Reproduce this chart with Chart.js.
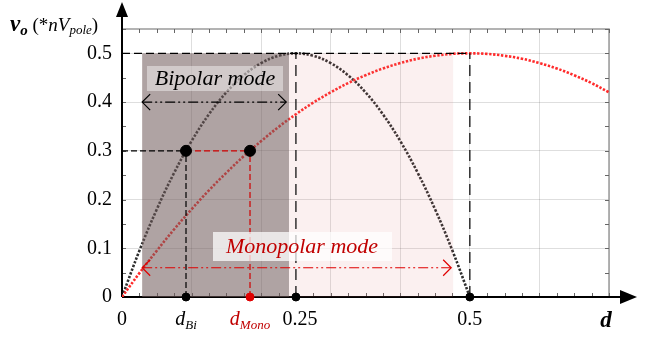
<!DOCTYPE html>
<html>
<head>
<meta charset="utf-8">
<script src="https://cdn.jsdelivr.net/npm/chart.js@4"></script>
<style>
  html, body { margin: 0; padding: 0; background: #fff; }
  #wrap { width: 647px; height: 338px; }
</style>
</head>
<body>
<div id="wrap"><canvas id="chart" width="647" height="338"></canvas></div>
<script>
// duty ratio samples
const dBipolar = [0, 0.025, 0.05, 0.075, 0.1, 0.125, 0.15, 0.175, 0.2, 0.225, 0.25,
  0.275, 0.3, 0.325, 0.35, 0.375, 0.4, 0.425, 0.45, 0.475, 0.5];
const vBipolar = [0, 0.095, 0.18, 0.255, 0.32, 0.375, 0.42, 0.455, 0.48, 0.495, 0.5,
  0.495, 0.48, 0.455, 0.42, 0.375, 0.32, 0.255, 0.18, 0.095, 0];

const dMonopolar = [0, 0.025, 0.05, 0.075, 0.1, 0.125, 0.15, 0.175, 0.2, 0.225, 0.25,
  0.275, 0.3, 0.325, 0.35, 0.375, 0.4, 0.425, 0.45, 0.475, 0.5,
  0.525, 0.55, 0.575, 0.6, 0.625, 0.65, 0.675, 0.7];
const vMonopolar = [0, 0.049, 0.095, 0.139, 0.18, 0.219, 0.255, 0.289, 0.32, 0.349, 0.375,
  0.399, 0.42, 0.439, 0.455, 0.469, 0.48, 0.489, 0.495, 0.499, 0.5,
  0.499, 0.495, 0.489, 0.48, 0.469, 0.455, 0.439, 0.42];

// operating point
const vRef = 0.3;
const dBi = 0.092;
const dMono = 0.184;
const dPeakBi = 0.25;
const dPeakMono = 0.5;
const vPeak = 0.5;

// axes
const xGridTicks = [0, 0.1, 0.2, 0.3, 0.4, 0.5, 0.6, 0.7];
const yTicks = [0, 0.1, 0.2, 0.3, 0.4, 0.5];
const xLabelValues = [0, dBi, dMono, dPeakBi, dPeakMono];
const xLabelMain = ['0', 'd', 'd', '0.25', '0.5'];
const xLabelSub = ['', 'Bi', 'Mono', '', ''];
const xLabelColors = ['#000', '#000', '#c00000', '#000', '#000'];

// operating ranges
const bipolarSpan = [0.029, 0.24];
const monopolarSpan = [0.029, 0.476];
const bipolarArrowV = 0.4;
const monopolarArrowV = 0.06;

const SERIF = '"Liberation Serif", "Times New Roman", serif';

function pts(xs, ys) {
  return xs.map((x, i) => ({ x: x, y: ys[i] }));
}

function guide(label, p, color, dash) {
  return {
    label: label,
    data: p,
    showLine: true,
    borderColor: color,
    borderWidth: 1.2,
    borderDash: dash,
    pointRadius: 0,
    order: 2
  };
}

function drawRuns(ctx, x, y, runs, align) {
  let total = 0;
  runs.forEach(r => {
    ctx.font = r.font;
    r.w = ctx.measureText(r.text).width;
    total += r.w;
  });
  let cx = align === 'center' ? x - total / 2 : x;
  ctx.textAlign = 'left';
  ctx.textBaseline = 'alphabetic';
  runs.forEach(r => {
    ctx.font = r.font;
    ctx.fillStyle = r.color || '#000';
    ctx.fillText(r.text, cx, y + (r.dy || 0));
    cx += r.w;
  });
}

function doubleArrow(ctx, x0, x1, y, color) {
  ctx.save();
  ctx.strokeStyle = color;
  ctx.lineWidth = 1.2;
  ctx.setLineDash([10, 3, 2, 3, 2, 3]);
  ctx.beginPath();
  ctx.moveTo(x0, y);
  ctx.lineTo(x1, y);
  ctx.stroke();
  ctx.setLineDash([]);
  ctx.beginPath();
  ctx.moveTo(x0 + 8, y - 8);
  ctx.lineTo(x0, y);
  ctx.lineTo(x0 + 8, y + 8);
  ctx.moveTo(x1 - 8, y - 8);
  ctx.lineTo(x1, y);
  ctx.lineTo(x1 - 8, y + 8);
  ctx.stroke();
  ctx.restore();
}

const frame = {
  id: 'frame',
  beforeDatasetsDraw(chart) {
    const { ctx, chartArea: a, scales: { x, y } } = chart;
    ctx.save();
    // top and right border
    ctx.strokeStyle = '#9a9a9a';
    ctx.lineWidth = 1.5;
    ctx.beginPath();
    ctx.moveTo(a.left, a.top);
    ctx.lineTo(a.right, a.top);
    ctx.lineTo(a.right, a.bottom);
    ctx.stroke();
    // minor ticks
    ctx.strokeStyle = '#666';
    ctx.lineWidth = 1;
    ctx.beginPath();
    for (let v = 0; v <= 0.7001; v += 0.025) {
      const px = Math.round(x.getPixelForValue(v)) + 0.5;
      ctx.moveTo(px, a.top); ctx.lineTo(px, a.top + 4);
      ctx.moveTo(px, a.bottom); ctx.lineTo(px, a.bottom - 4);
    }
    for (let v = 0; v <= 0.5501; v += 0.05) {
      const py = Math.round(y.getPixelForValue(v)) + 0.5;
      ctx.moveTo(a.left, py); ctx.lineTo(a.left + 4, py);
      ctx.moveTo(a.right, py); ctx.lineTo(a.right - 4, py);
    }
    ctx.stroke();
    // main axes with arrows
    ctx.strokeStyle = '#000';
    ctx.fillStyle = '#000';
    ctx.lineWidth = 2;
    ctx.beginPath();
    ctx.moveTo(a.left, a.bottom);
    ctx.lineTo(a.left, 14);
    ctx.moveTo(a.left, a.bottom);
    ctx.lineTo(622, a.bottom);
    ctx.stroke();
    ctx.beginPath();
    ctx.moveTo(a.left, 2);
    ctx.lineTo(a.left - 6, 17);
    ctx.lineTo(a.left + 6, 17);
    ctx.closePath();
    ctx.fill();
    ctx.beginPath();
    ctx.moveTo(637, a.bottom);
    ctx.lineTo(620, a.bottom - 7);
    ctx.lineTo(620, a.bottom + 7);
    ctx.closePath();
    ctx.fill();
    ctx.restore();
  },
  afterDatasetDraw(chart, args) {
    // shade the operating regions over the curves
    if (args.meta.label !== 'Monopolar') return;
    const { ctx, scales: { x, y } } = chart;
    const yTop = y.getPixelForValue(vPeak);
    const yBot = y.getPixelForValue(0);
    ctx.save();
    ctx.fillStyle = 'rgba(220, 120, 120, 0.11)';
    const m0 = x.getPixelForValue(monopolarSpan[0]);
    const m1 = x.getPixelForValue(monopolarSpan[1]);
    ctx.fillRect(m0, yTop, m1 - m0, yBot - yTop);
    ctx.fillStyle = 'rgba(100, 88, 88, 0.5)';
    const b0 = x.getPixelForValue(bipolarSpan[0]);
    const b1 = x.getPixelForValue(bipolarSpan[1]);
    ctx.fillRect(b0, yTop, b1 - b0, yBot - yTop);
    ctx.restore();
  },
  afterDatasetsDraw(chart) {
    const { ctx, scales: { x, y } } = chart;
    ctx.save();
    // mode arrows
    doubleArrow(ctx, x.getPixelForValue(bipolarSpan[0]), x.getPixelForValue(0.236),
      y.getPixelForValue(bipolarArrowV), '#000');
    doubleArrow(ctx, x.getPixelForValue(monopolarSpan[0]), x.getPixelForValue(monopolarSpan[1]) - 2,
      y.getPixelForValue(monopolarArrowV), '#e00000');
    // mode captions
    ctx.fillStyle = 'rgba(255, 255, 255, 0.42)';
    ctx.fillRect(147, 66, 136, 25);
    drawRuns(ctx, 215, 85, [{ text: 'Bipolar mode', font: 'italic 22px ' + SERIF, color: '#000' }], 'center');
    ctx.fillStyle = 'rgba(255, 255, 255, 0.72)';
    ctx.fillRect(213, 232, 179, 29);
    drawRuns(ctx, 302, 253, [{ text: 'Monopolar mode', font: 'italic 22px ' + SERIF, color: '#c00000' }], 'center');

    // x labels
    xLabelValues.forEach((v, i) => {
      const runs = [{ text: xLabelMain[i], font: (xLabelSub[i] ? 'italic ' : '') + '20px ' + SERIF, color: xLabelColors[i] }];
      if (xLabelSub[i]) runs.push({ text: xLabelSub[i], font: 'italic 13px ' + SERIF, color: xLabelColors[i], dy: 4 });
      const shift = xLabelMain[i] === '0.25' ? 4 : 0;
      drawRuns(ctx, x.getPixelForValue(v) + shift, 325, runs, 'center');
    });
    drawRuns(ctx, 606, 327, [{ text: 'd', font: 'bold italic 23px ' + SERIF }], 'center');

    // y title
    drawRuns(ctx, 10, 31, [
      { text: 'v', font: 'bold italic 23px ' + SERIF },
      { text: 'o', font: 'bold italic 15px ' + SERIF, dy: 4 },
      { text: ' (*', font: '19px ' + SERIF },
      { text: 'nV', font: 'italic 19px ' + SERIF },
      { text: 'pole', font: 'italic 13px ' + SERIF, dy: 3 },
      { text: ')', font: '19px ' + SERIF }
    ], 'left');
    ctx.restore();
  }
};

function build() {
  const ctx = document.getElementById('chart').getContext('2d');
  new Chart(ctx, {
    type: 'scatter',
    data: {
      datasets: [
        {
          label: 'Operating points',
          data: [{ x: dBi, y: vRef }, { x: dMono, y: vRef }],
          backgroundColor: '#000',
          borderColor: '#000',
          pointRadius: 5.5,
          clip: false,
          order: 1
        },
        {
          label: 'Axis markers',
          data: [{ x: dBi, y: 0 }, { x: dPeakBi, y: 0 }, { x: dPeakMono, y: 0 }],
          backgroundColor: '#000',
          borderColor: '#000',
          pointRadius: 4,
          clip: false,
          order: 1
        },
        {
          label: 'Monopolar marker',
          data: [{ x: dMono, y: 0 }],
          backgroundColor: '#e00000',
          borderColor: '#e00000',
          pointRadius: 4,
          clip: false,
          order: 1
        },
        guide('Peak level', [{ x: 0, y: vPeak }, { x: dPeakMono, y: vPeak }], '#000', [8, 4]),
        guide('Bipolar peak', [{ x: dPeakBi, y: 0 }, { x: dPeakBi, y: vPeak }], '#000', [11, 6]),
        guide('Monopolar peak', [{ x: dPeakMono, y: 0 }, { x: dPeakMono, y: vPeak }], '#000', [11, 6]),
        guide('Reference', [{ x: 0, y: vRef }, { x: dBi, y: vRef }], '#000', [6, 3]),
        guide('dBi drop', [{ x: dBi, y: 0 }, { x: dBi, y: vRef }], '#000', [6, 3]),
        guide('Reference red', [{ x: dBi, y: vRef }, { x: dMono, y: vRef }], '#d00000', [6, 3]),
        guide('dMono drop', [{ x: dMono, y: 0 }, { x: dMono, y: vRef }], '#d00000', [6, 3]),
        {
          label: 'Monopolar',
          data: pts(dMonopolar, vMonopolar),
          showLine: true,
          borderColor: '#ff2a2a',
          borderWidth: 2.6,
          borderDash: [2.4, 1.6],
          tension: 0.4,
          pointRadius: 0,
          order: 3
        },
        {
          label: 'Bipolar',
          data: pts(dBipolar, vBipolar),
          showLine: true,
          borderColor: '#2e2e2e',
          borderWidth: 2.6,
          borderDash: [2.4, 1.6],
          tension: 0.4,
          pointRadius: 0,
          order: 4
        }
      ]
    },
    options: {
      responsive: false,
      animation: false,
      layout: { padding: { left: 0, right: 38, top: 29, bottom: 41 } },
      plugins: {
        legend: { display: false },
        tooltip: { enabled: false }
      },
      scales: {
        x: {
          type: 'linear',
          min: 0,
          max: 0.7,
          afterBuildTicks: s => { s.ticks = xGridTicks.map(v => ({ value: v })); },
          afterFit: s => { s.height = 0; },
          ticks: { display: false },
          grid: { color: 'rgba(0,0,0,0.13)', lineWidth: 1, drawTicks: false },
          border: { display: false }
        },
        y: {
          min: 0,
          max: 0.55,
          afterBuildTicks: s => { s.ticks = yTicks.map(v => ({ value: v })); },
          afterFit: s => { s.width = 122; },
          ticks: {
            color: '#000',
            padding: 10,
            font: { family: SERIF, size: 20 }
          },
          grid: { color: 'rgba(0,0,0,0.13)', lineWidth: 1, drawTicks: false },
          border: { display: false }
        }
      }
    },
    plugins: [frame]
  });
}

// make sure the serif faces are ready before drawing on the canvas
Promise.all([
  document.fonts.load('20px ' + SERIF),
  document.fonts.load('italic 20px ' + SERIF),
  document.fonts.load('bold italic 20px ' + SERIF)
]).then(build, build);
</script>
</body>
</html>
